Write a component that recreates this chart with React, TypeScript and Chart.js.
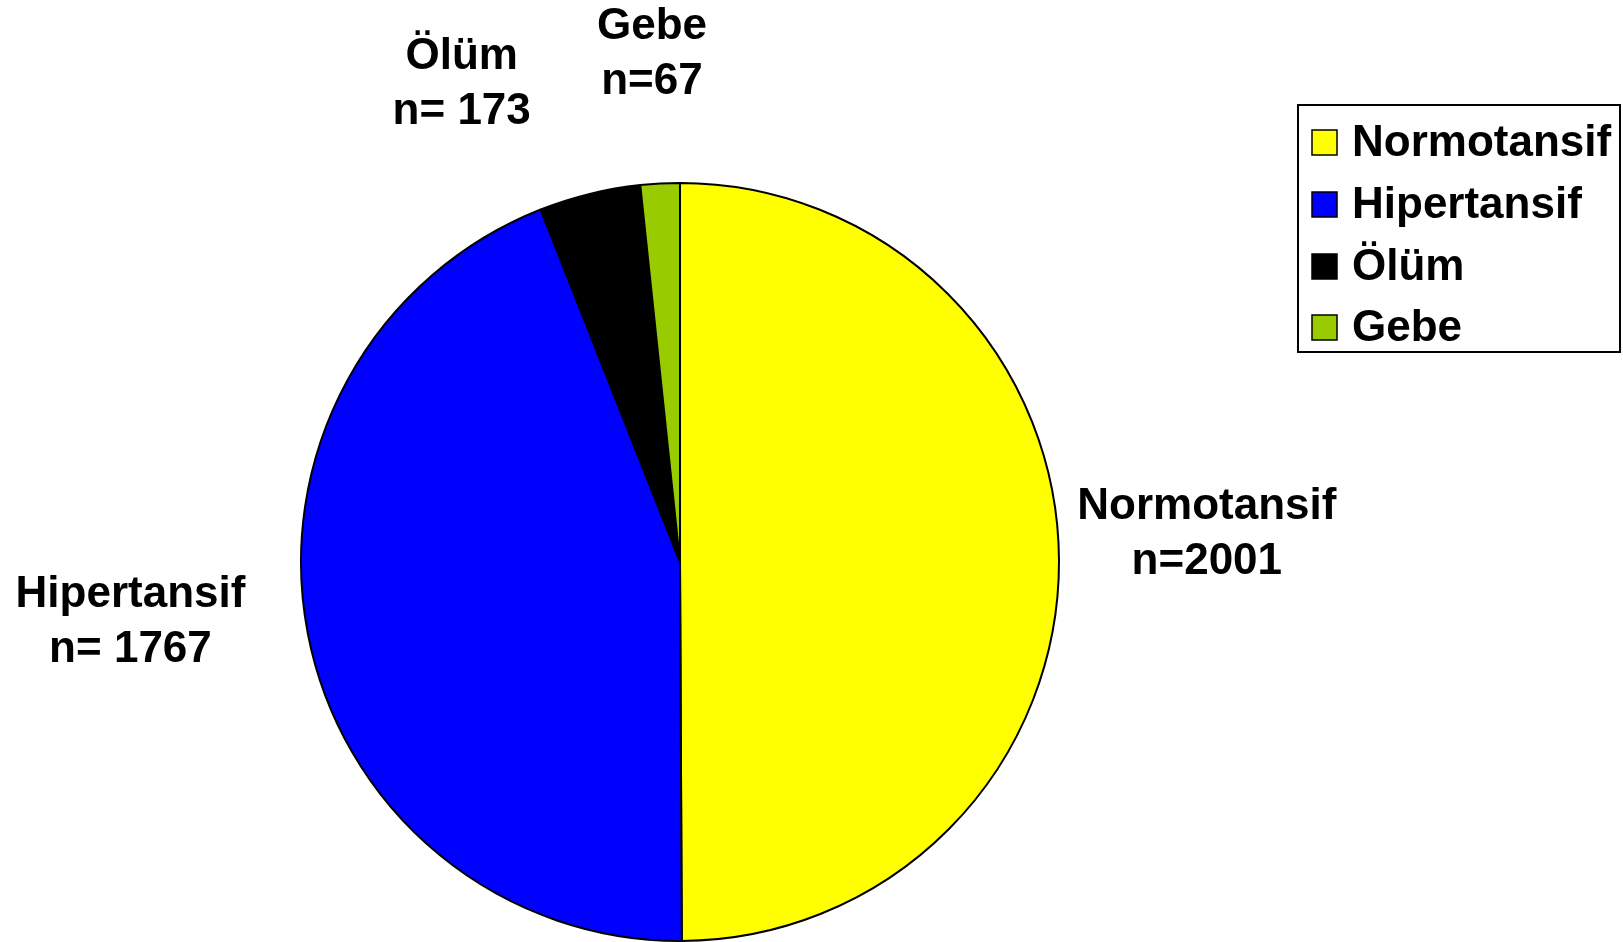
import React, { useEffect, useRef } from "react";
import { Chart, registerables } from "chart.js";

Chart.register(...registerables);

const categories = ["Normotansif", "Hipertansif", "Ölüm", "Gebe"];
const counts = [2001, 1767, 173, 67];
const countLabels = ["n=2001", "n= 1767", "n= 173", "n=67"];
const colors = ["#FFFF00", "#0000FF", "#000000", "#99CC00"];

// label anchor offsets, in units of the pie radius, relative to the pie centre
const labelOffsets: [number, number][] = [
  [1.39, -0.075],
  [-1.45, 0.158],
  [-0.576, -1.261],
  [-0.074, -1.34],
];

const FONT = "bold 44px 'Liberation Sans', Arial, sans-serif";

const overlayPlugin = {
  id: "overlay",
  afterDraw(chart: any) {
    const ctx = chart.ctx as CanvasRenderingContext2D;
    const meta = chart.getDatasetMeta(0);
    const arc = meta.data[0];
    const cx = arc.x;
    const cy = arc.y;
    const r = arc.outerRadius;
    ctx.save();
    ctx.font = FONT;
    ctx.fillStyle = "#000";
    ctx.textAlign = "center";
    ctx.textBaseline = "middle";
    categories.forEach((c, i) => {
      const [ox, oy] = labelOffsets[i];
      const x = cx + ox * r;
      const y = cy + oy * r;
      ctx.fillText(c, x, y - 27);
      ctx.fillText(countLabels[i], x, y + 28);
    });

    // legend box
    const bx = 1298, by = 105, bw = 322, bh = 247;
    ctx.lineWidth = 2;
    ctx.strokeStyle = "#000";
    ctx.strokeRect(bx, by, bw, bh);
    const rowY = [142, 204, 266, 327];
    ctx.textAlign = "left";
    categories.forEach((c, i) => {
      const y = rowY[i];
      ctx.fillStyle = colors[i];
      ctx.fillRect(1312, y - 12, 25, 25);
      ctx.lineWidth = 1.5;
      ctx.strokeRect(1312, y - 12, 25, 25);
      ctx.fillStyle = "#000";
      ctx.fillText(c, 1352, y + 2);
    });
    ctx.restore();
  },
};

export default function App() {
  const ref = useRef<HTMLCanvasElement>(null);
  useEffect(() => {
    if (!ref.current) return;
    const chart = new Chart(ref.current, {
      type: "pie",
      data: {
        labels: categories,
        datasets: [
          {
            data: counts,
            backgroundColor: colors,
            borderColor: "#000",
            borderWidth: 2,
          },
        ],
      },
      options: {
        animation: false,
        responsive: false,
        radius: 379,
        layout: { padding: { left: 0, right: 263, top: 182, bottom: 0 } },
        plugins: { legend: { display: false }, tooltip: { enabled: false } },
      },
      plugins: [overlayPlugin],
    });
    return () => chart.destroy();
  }, []);
  return (
    <div style={{ position: "fixed", left: 0, top: 0, width: 1623, height: 942, background: "#fff" }}>
      <canvas ref={ref} width={1623} height={942} style={{ width: 1623, height: 942 }} />
    </div>
  );
}
